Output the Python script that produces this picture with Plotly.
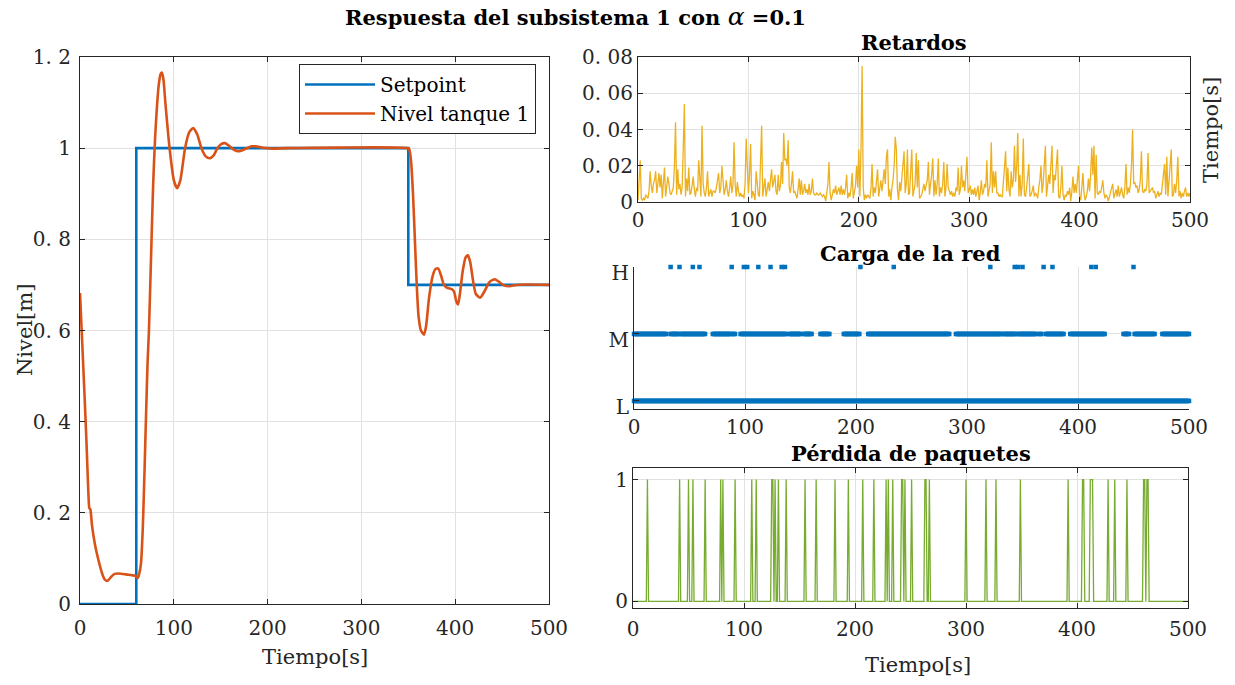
import numpy as np
import plotly.graph_objects as go

W, H = 1235, 685

# ---------------- data ----------------
sp_t = [0, 60, 60, 350, 350, 500]
sp_v = [0, 0, 1, 1, 0.7, 0.7]

lvl_t = [0, 2, 5, 7, 9, 10, 11, 12, 13, 16, 19.7, 23.6, 26, 28.3, 30, 33.4, 37, 40.5, 45, 49, 55, 59,
         61.5, 63, 65, 67, 68.8, 70.5, 72, 73.5, 76, 78, 80, 82, 84, 86, 87.3, 89, 91, 95.5, 100,
         103.5, 107, 112, 116.5, 120.7, 125, 129.5, 134, 138.4, 142.5, 146.5, 150.5, 154.5, 158.5,
         163, 167, 171, 175, 179, 183, 187.5, 195, 205, 220, 350,
         351, 353, 355, 357, 359, 361, 363.5, 366.7, 369, 372, 376, 379, 382, 385, 388, 391, 394,
         397, 399, 401, 403, 405, 408, 411, 413.5, 416, 419, 422, 426.5, 431, 436, 440, 443, 447,
         452, 458, 465, 475, 500]
lvl_v = [0.682, 0.59, 0.45, 0.35, 0.24, 0.21, 0.208, 0.19, 0.169, 0.13, 0.096, 0.067, 0.055, 0.051,
         0.052, 0.06, 0.066, 0.067, 0.066, 0.065, 0.063, 0.062,
         0.057, 0.065, 0.089, 0.17, 0.293, 0.42, 0.527, 0.6, 0.78, 0.92, 1.02, 1.09, 1.14, 1.163,
         1.166, 1.15, 1.10, 1.0, 0.93,
         0.912, 0.93, 1.0, 1.035, 1.044, 1.03, 1.0, 0.982, 0.978, 0.984, 1.0, 1.009, 1.011, 1.006,
         0.998, 0.994, 0.994, 0.997, 1.001, 1.004, 1.004, 1.001, 0.999, 1.0, 1.0,
         0.998, 0.97, 0.90, 0.80, 0.70, 0.63, 0.60, 0.591, 0.61, 0.67, 0.72, 0.735, 0.736, 0.72,
         0.70, 0.694, 0.692, 0.69, 0.684, 0.665, 0.657, 0.68, 0.73, 0.76, 0.765, 0.75, 0.71, 0.68,
         0.672, 0.685, 0.705, 0.711, 0.712, 0.706, 0.699, 0.697, 0.70, 0.701, 0.70]

# delays, one value per second from t = 0 to 500
ret_v = [
    0.001, 0.010, 0.023, 0.002, 0.001, 0.002, 0.001, 0.004, 0.003, 0.002, 0.006, 0.017, 0.009, 0.005, 0.010, 0.012, 0.017, 0.005, 0.010, 0.016, 0.008, 0.015, 0.002, 0.010, 0.019,
    0.003, 0.009, 0.014, 0.010, 0.005, 0.004, 0.006, 0.008, 0.020, 0.044, 0.004, 0.018, 0.007, 0.010, 0.004, 0.008, 0.030, 0.054, 0.003, 0.013, 0.006, 0.019, 0.004, 0.005, 0.009,
    0.014, 0.007, 0.003, 0.008, 0.006, 0.023, 0.010, 0.003, 0.042, 0.010, 0.005, 0.003, 0.008, 0.017, 0.003, 0.006, 0.007, 0.003, 0.006, 0.006, 0.005, 0.008, 0.012, 0.016, 0.005,
    0.008, 0.020, 0.009, 0.004, 0.007, 0.012, 0.006, 0.003, 0.008, 0.014, 0.005, 0.009, 0.033, 0.010, 0.003, 0.011, 0.006, 0.003, 0.005, 0.003, 0.004, 0.002, 0.010, 0.035, 0.020,
    0.005, 0.015, 0.032, 0.002, 0.006, 0.004, 0.001, 0.017, 0.008, 0.004, 0.003, 0.020, 0.042, 0.003, 0.008, 0.013, 0.003, 0.006, 0.011, 0.006, 0.012, 0.018, 0.008, 0.011, 0.015,
    0.006, 0.004, 0.015, 0.006, 0.009, 0.022, 0.010, 0.038, 0.023, 0.024, 0.020, 0.034, 0.008, 0.005, 0.010, 0.017, 0.005, 0.006, 0.004, 0.002, 0.007, 0.013, 0.004, 0.012, 0.004,
    0.006, 0.010, 0.005, 0.007, 0.004, 0.010, 0.004, 0.006, 0.013, 0.005, 0.004, 0.004, 0.005, 0.004, 0.004, 0.005, 0.004, 0.003, 0.004, 0.003, 0.0005, 0.006, 0.010, 0.022, 0.005,
    0.001, 0.004, 0.007, 0.005, 0.009, 0.004, 0.006, 0.008, 0.004, 0.009, 0.004, 0.007, 0.004, 0.008, 0.015, 0.002, 0.005, 0.003, 0.008, 0.016, 0.002, 0.006, 0.009, 0.020, 0.008,
    0.029, 0.003, 0.030, 0.075, 0.008, 0.001, 0.004, 0.002, 0.004, 0.003, 0.002, 0.007, 0.021, 0.003, 0.008, 0.005, 0.010, 0.018, 0.003, 0.008, 0.012, 0.006, 0.015, 0.018, 0.010,
    0.025, 0.029, 0.003, 0.007, 0.001, 0.008, 0.012, 0.020, 0.036, 0.029, 0.007, 0.001, 0.011, 0.006, 0.015, 0.018, 0.028, 0.005, 0.010, 0.029, 0.004, 0.005, 0.015, 0.029, 0.003,
    0.007, 0.010, 0.027, 0.008, 0.023, 0.002, 0.003, 0.004, 0.007, 0.010, 0.006, 0.009, 0.012, 0.022, 0.004, 0.010, 0.015, 0.024, 0.003, 0.012, 0.004, 0.010, 0.024, 0.003, 0.008,
    0.005, 0.010, 0.022, 0.003, 0.008, 0.021, 0.008, 0.005, 0.004, 0.006, 0.003, 0.005, 0.003, 0.008, 0.006, 0.019, 0.004, 0.007, 0.020, 0.008, 0.012, 0.006, 0.015, 0.025, 0.005,
    0.008, 0.009, 0.004, 0.007, 0.004, 0.008, 0.003, 0.006, 0.009, 0.001, 0.005, 0.012, 0.004, 0.006, 0.010, 0.008, 0.023, 0.003, 0.008, 0.010, 0.033, 0.005, 0.017, 0.008, 0.017,
    0.005, 0.005, 0.003, 0.004, 0.003, 0.003, 0.010, 0.020, 0.028, 0.006, 0.019, 0.007, 0.003, 0.017, 0.008, 0.012, 0.031, 0.011, 0.020, 0.038, 0.003, 0.015, 0.003, 0.010, 0.035,
    0.004, 0.003, 0.008, 0.015, 0.021, 0.003, 0.004, 0.006, 0.009, 0.003, 0.005, 0.004, 0.002, 0.008, 0.012, 0.020, 0.005, 0.010, 0.019, 0.031, 0.003, 0.008, 0.015, 0.010, 0.018,
    0.031, 0.005, 0.015, 0.012, 0.020, 0.029, 0.003, 0.002, 0.008, 0.020, 0.004, 0.001, 0.004, 0.003, 0.006, 0.004, 0.008, 0.0005, 0.006, 0.014, 0.005, 0.010, 0.005, 0.012, 0.020,
    0.003, 0.001, 0.008, 0.016, 0.005, 0.001, 0.003, 0.006, 0.013, 0.006, 0.015, 0.030, 0.015, 0.031, 0.002, 0.026, 0.005, 0.004, 0.006, 0.005, 0.008, 0.012, 0.005, 0.002, 0.004,
    0.003, 0.0005, 0.003, 0.005, 0.007, 0.010, 0.002, 0.005, 0.007, 0.003, 0.009, 0.003, 0.005, 0.008, 0.004, 0.002, 0.008, 0.021, 0.004, 0.008, 0.005, 0.010, 0.020, 0.040, 0.010,
    0.011, 0.008, 0.009, 0.005, 0.007, 0.012, 0.028, 0.006, 0.005, 0.007, 0.006, 0.010, 0.027, 0.005, 0.006, 0.007, 0.008, 0.005, 0.006, 0.002, 0.005, 0.006, 0.003, 0.005, 0.004,
    0.010, 0.015, 0.021, 0.004, 0.025, 0.003, 0.010, 0.020, 0.029, 0.003, 0.004, 0.010, 0.005, 0.012, 0.025, 0.003, 0.006, 0.002, 0.005, 0.003, 0.006, 0.008, 0.003, 0.005, 0.003, 0.005,
]
ret_t = np.linspace(0, 500, len(ret_v))

# network load: 1 = L, 2 = M, 3 = H
load_L_seg = [(0, 500)]
load_M_seg = [(0, 29), (33, 40), (42, 64), (71, 87), (89, 91), (96, 137), (140, 150), (153, 160),
              (168, 176), (189, 203), (211, 284), (290, 331), (333, 344), (346, 362), (365, 367),
              (371, 387), (393, 424), (441, 446), (451, 469), (476, 500)]
load_H_t = [33, 41, 53, 59, 88, 99, 102, 112, 123, 133, 136, 204, 234, 321, 343, 346, 350, 369, 377,
            412, 416, 450]

# packet loss instants (value 1), otherwise 0, sampled each second
loss_t = [13, 42, 50, 54, 65, 79, 81, 92, 107, 111, 125, 126, 128, 131, 138, 155, 165, 182, 194,
          207, 217, 228, 230, 234, 242, 243, 245, 251, 263, 264, 267, 300, 318, 327, 349, 392, 405,
          406, 412, 413, 414, 428, 434, 445, 460, 461, 463, 464]
loss_grid_t = np.arange(0, 501)
loss_v = np.isin(loss_grid_t, loss_t).astype(float)

# ---------------- style ----------------
BLUE, ORANGE, YELLOW, GREEN = "#0072BD", "#D95319", "#EDB120", "#77AC30"
AX = "#262626"
GRID = "#e1e1e1"
FONT = "DejaVu Serif"
TF = dict(family=FONT, size=20, color=AX)


def px_x(a, b):
    return [a / W, b / W]


def px_y(top, bottom):
    return [(H - bottom) / H, (H - top) / H]


fig = go.Figure()
fig.add_trace(go.Scatter(x=sp_t, y=sp_v, mode="lines", name="Setpoint",
                         line=dict(color=BLUE, width=2.6), xaxis="x", yaxis="y"))
fig.add_trace(go.Scatter(x=lvl_t, y=lvl_v, mode="lines", name="Nivel tanque 1",
                         line=dict(color=ORANGE, width=2.6, shape="spline", smoothing=0.6),
                         xaxis="x", yaxis="y"))
fig.add_trace(go.Scatter(x=ret_t, y=ret_v, mode="lines", showlegend=False,
                         line=dict(color=YELLOW, width=1.3), xaxis="x2", yaxis="y2"))

for segs, lvl in ((load_L_seg, 1), (load_M_seg, 2)):
    xs = np.concatenate([np.arange(a, b + 1, 1.0) for a, b in segs])
    fig.add_trace(go.Scatter(x=xs, y=np.full(len(xs), lvl), mode="markers", showlegend=False,
                             marker=dict(symbol="square", size=4.5, color=BLUE, line=dict(width=0)),
                             cliponaxis=False, xaxis="x3", yaxis="y3"))
fig.add_trace(go.Scatter(x=load_H_t, y=[3] * len(load_H_t), mode="markers", showlegend=False,
                         marker=dict(symbol="square", size=4.5, color=BLUE, line=dict(width=0)),
                         cliponaxis=False, xaxis="x3", yaxis="y3"))

fig.add_trace(go.Scatter(x=loss_grid_t, y=loss_v, mode="lines", showlegend=False,
                         line=dict(color=GREEN, width=1.3), xaxis="x4", yaxis="y4"))

common = dict(showgrid=True, gridcolor=GRID, gridwidth=1, showline=True, linecolor=AX,
              linewidth=1, ticks="inside", ticklen=5, tickcolor=AX, tickfont=TF, zeroline=False,
              automargin=False)
xt = [0, 100, 200, 300, 400, 500]

fig.update_layout(
    width=W, height=H, autosize=False,
    margin=dict(l=0, r=0, t=0, b=0, pad=0, autoexpand=False),
    paper_bgcolor="white", plot_bgcolor="white",
    xaxis=dict(domain=px_x(80, 549), range=[0, 500], tickvals=xt, mirror="ticks", anchor="y",
               ticklabelstandoff=6, **common),
    yaxis=dict(domain=px_y(57, 604), range=[0, 1.2], tickvals=[0, 0.2, 0.4, 0.6, 0.8, 1.0, 1.2],
               ticktext=["0", "0. 2", "0. 4", "0. 6", "0. 8", "1", "1. 2"], mirror="ticks",
               anchor="x", ticklabelstandoff=4, **common),
    xaxis2=dict(domain=px_x(638, 1190), range=[0, 500], tickvals=xt, mirror="ticks", anchor="y2", **common),
    yaxis2=dict(domain=px_y(57, 202), range=[0, 0.08], tickvals=[0, 0.02, 0.04, 0.06, 0.08],
                ticktext=["0", "0. 02", "0. 04", "0. 06", "0. 08"], mirror="ticks", anchor="x2", **common),
    xaxis3=dict(domain=px_x(634, 1189), range=[0, 500], tickvals=xt, mirror=False, anchor="y3", **common),
    yaxis3=dict(domain=px_y(267, 409), range=[0.88, 3.0], tickvals=[1, 2, 3],
                ticktext=["L", "M", "H"], mirror=False, anchor="x3", ticklabelshift=6, **common),
    xaxis4=dict(domain=px_x(633, 1188), range=[0, 500], tickvals=xt, mirror="ticks", anchor="y4",
                ticklabelstandoff=3, **common),
    yaxis4=dict(domain=px_y(468, 608), range=[-0.055, 1.095], tickvals=[0, 1],
                ticktext=["0", "1"], mirror="ticks", anchor="x4", **common),
    legend=dict(x=536 / W, y=(H - 64) / H, xanchor="right", yanchor="top",
                bgcolor="white", bordercolor=AX, borderwidth=1, itemwidth=70,
                font=dict(family=FONT, size=20, color="black"), tracegroupgap=0),
)


def ann(text, x, y, size=19, bold=False, angle=0, color=AX):
    fig.add_annotation(text=("<b>%s</b>" % text) if bold else text, x=x / W, y=(H - y) / H,
                       xref="paper", yref="paper", showarrow=False, textangle=angle,
                       font=dict(family=FONT, size=size, color=color), xanchor="center", yanchor="middle")


ann("Respuesta del subsistema 1 con <span style='font-weight:normal;font-size:25px'><i>α</i></span> =0.1",
    575, 17, size=21, bold=True, color="black")
ann("Retardos", 914, 43, size=21, bold=True, color="black")
ann("Carga de la red", 911, 253, size=21, bold=True, color="black")
ann("Pérdida de paquetes", 911, 453, size=21, bold=True, color="black")
ann("Nivel[m]", 25, 330, size=21, angle=-90)
ann("Tiempo[s]", 315, 657, size=21)
ann("Tiempo[s]", 918, 665, size=21)
ann("Tiempo[s]", 1211, 130, size=21, angle=-90)

fig.write_html("out.html")
